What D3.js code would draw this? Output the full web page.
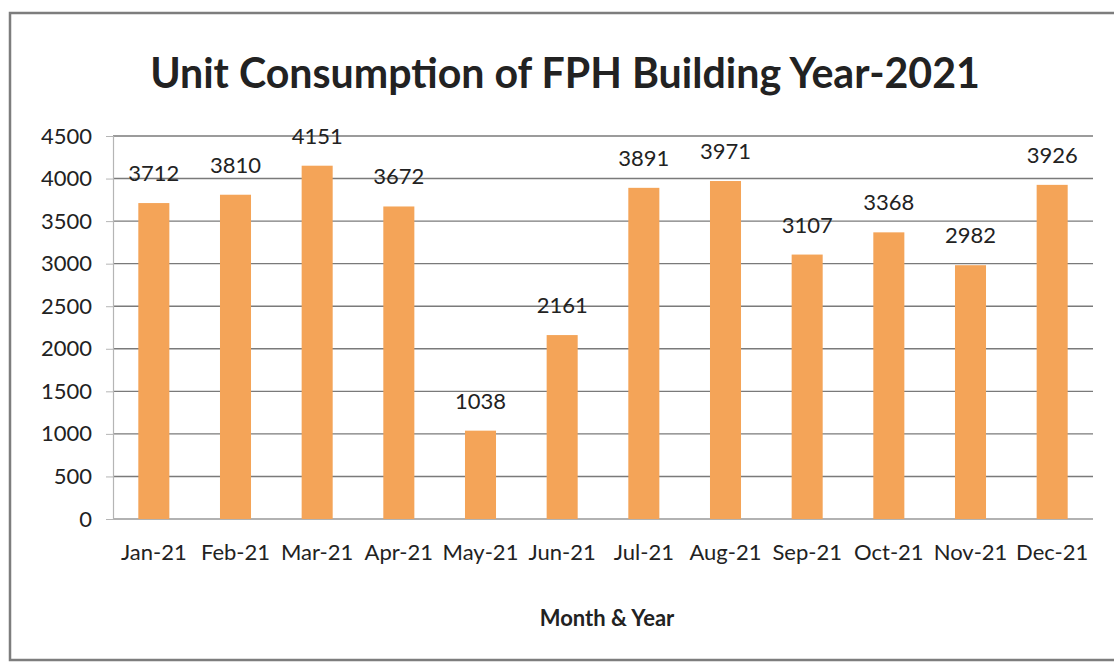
<!DOCTYPE html>
<html>
<head>
<meta charset="utf-8">
<script src="https://cdn.jsdelivr.net/npm/d3@7/dist/d3.min.js"></script>
<style>
  html, body { margin: 0; padding: 0; background: #fff; }
  svg { display: block; }
  text { font-family: Lato, "Open Sans", sans-serif; fill: #222; }
</style>
</head>
<body>
<svg id="chart" width="1114" height="668"></svg>
<script>
const months = ["Jan-21","Feb-21","Mar-21","Apr-21","May-21","Jun-21","Jul-21","Aug-21","Sep-21","Oct-21","Nov-21","Dec-21"];
const units = [3712, 3810, 4151, 3672, 1038, 2161, 3891, 3971, 3107, 3368, 2982, 3926];
const yTicks = [0, 500, 1000, 1500, 2000, 2500, 3000, 3500, 4000, 4500];
const titleText = "Unit Consumption of FPH Building Year-2021";
const xAxisTitle = "Month & Year";

const svg = d3.select("#chart");
const plot = { left: 113, right: 1093, top: 136, bottom: 519 };

// outer frame
svg.append("rect")
  .attr("x", 10).attr("y", 13)
  .attr("width", 1120).attr("height", 647)
  .attr("fill", "none").attr("stroke", "#7d7d7d").attr("stroke-width", 2.5);

const x = d3.scaleBand().domain(months)
  .range([plot.left, plot.right]).paddingInner(0.62).paddingOuter(0.31);
const y = d3.scaleLinear().domain([0, 4500]).range([plot.bottom, plot.top]);

// gridlines
svg.append("g").selectAll("line").data(yTicks).join("line")
  .attr("x1", plot.left).attr("x2", plot.right)
  .attr("y1", d => y(d)).attr("y2", d => y(d))
  .attr("stroke", d => d === 0 ? "#999" : "#7a7a7a")
  .attr("stroke-width", 1.4);

// y axis
const yAxis = d3.axisLeft(y).tickValues(yTicks).tickFormat(d3.format("d")).tickSize(7).tickPadding(14);
const gy = svg.append("g").attr("transform", `translate(${plot.left},0)`).call(yAxis);
gy.select(".domain").attr("stroke", "#b5b5b5").attr("stroke-width", 1.2);
gy.selectAll(".tick line").attr("stroke", "#b5b5b5");
gy.selectAll(".tick text").style("font-family", "Lato, sans-serif").style("font-size", "22px").attr("fill", "#222");

// bars
svg.append("g").selectAll("rect").data(units).join("rect")
  .attr("x", (d, i) => x(months[i]))
  .attr("width", x.bandwidth())
  .attr("y", d => y(d))
  .attr("height", d => y(0) - y(d))
  .attr("fill", "#F4A458");

// value labels
svg.append("g").selectAll("text").data(units).join("text")
  .attr("x", (d, i) => x(months[i]) + x.bandwidth() / 2)
  .attr("y", d => y(d) - 22)
  .attr("text-anchor", "middle")
  .style("font-size", "22px")
  .text(d => d);

// x axis labels
const xAxis = d3.axisBottom(x).tickSize(0).tickPadding(25);
const gx = svg.append("g").attr("transform", `translate(0,${plot.bottom})`).call(xAxis);
gx.select(".domain").remove();
gx.selectAll(".tick text").style("font-family", "Lato, sans-serif").style("font-size", "22px").attr("fill", "#222");

// axis title
svg.append("text")
  .attr("x", 607).attr("y", 626)
  .attr("text-anchor", "middle")
  .style("font-size", "22px").style("font-weight", "bold")
  .text(xAxisTitle);

// chart title, fitted to target width
const t = svg.append("text")
  .attr("x", 565).attr("y", 88)
  .attr("text-anchor", "middle")
  .style("font-size", "40px").style("font-weight", "bold")
  .text(titleText);
const len = t.node().getComputedTextLength();
t.style("font-size", (40 * 830 / len) + "px");
</script>
</body>
</html>
